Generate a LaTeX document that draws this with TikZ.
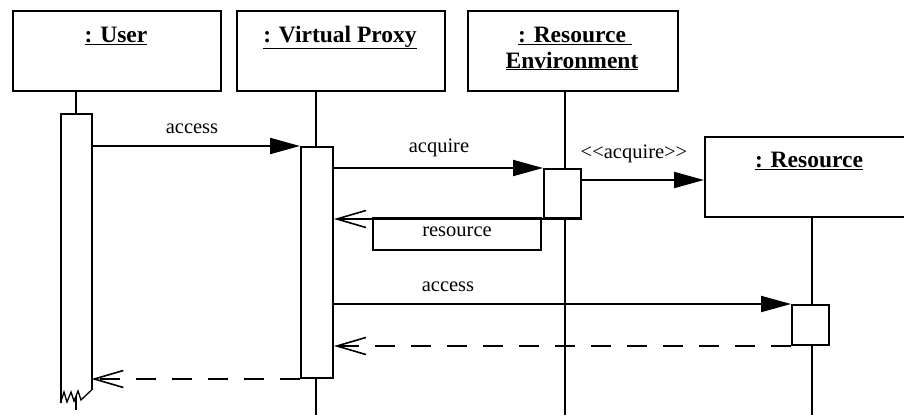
\documentclass[tikz,border=0pt]{standalone}
\usepackage{fontspec}
\setmainfont{Liberation Serif}
\usetikzlibrary{arrows.meta}
\begin{document}
\begin{tikzpicture}[x=1pt,y=-1pt,line width=2pt,
  objbox/.style={draw,rectangle,inner sep=0pt,anchor=north west,minimum height=80pt},
  actbox/.style={draw,fill=white,rectangle,inner sep=0pt,anchor=north west},
  ghost/.style={rectangle,inner sep=0pt,anchor=north west},
  objtitle/.style={anchor=base,inner sep=0pt,font=\fontsize{23.5}{28}\selectfont\bfseries},
  lbl/.style={anchor=base,inner sep=0pt,font=\fontsize{20.5}{24}\selectfont},
  lblbox/.style={draw,rectangle,inner sep=0pt,anchor=north west,minimum width=168pt,
    text height=18pt,text depth=14pt,font=\fontsize{20.5}{24}\selectfont},
  msg/.style={-{Triangle[length=30pt,width=16pt]}},
  retmsg/.style={-{Straight Barb[length=29pt,width=17pt,line width=1.6pt]}},
  dsh/.style={dash pattern=on 20pt off 16pt}]
\useasboundingbox (0,0) rectangle (904,415);
\clip (0,0) rectangle (904,415);
% object boxes
\node[objbox,minimum width=208pt] (ubox) at (12,10) {};
\node[objbox,minimum width=208pt] (vbox) at (236,10) {};
\node[objbox,minimum width=210pt] (ebox) at (467,10) {};
\node[objbox,minimum width=230pt] (rbox) at (704,136) {};
% titles
\node[objtitle] (ut) at (116,42) {\underline{: User}};
\node[objtitle] (vt) at (340,42) {\underline{: Virtual Proxy}};
\node[objtitle] (et1) at (575,42) {\underline{: Resource\ }};
\node[objtitle] (et2) at (572,68) {\underline{Environment}};
\node[objtitle] (rt) at (809,167) {\underline{: Resource}};
% lifeline x positions and bottom
\coordinate (uL) at (76,0);
\coordinate (vL) at (316,0);
\coordinate (eL) at (565,0);
\coordinate (sL) at (812,0);
\coordinate (bot) at (0,415);
\coordinate (m3) at (0,180);
\coordinate (uStubTop) at (76,396);
\coordinate (uStubEnd) at (76,410);
% activations
\node[ghost,minimum width=29pt,minimum height=274pt] (ua) at (60.5,114) {};
\node[actbox,minimum width=32pt,minimum height=231pt] (va) at (300,146) {};
\node[actbox,minimum width=37pt,minimum height=49pt] (ra) at (543,168) {};
\node[actbox,minimum width=37pt,minimum height=40pt] (sa) at (791,304) {};
% user activation with broken end
\draw (ua.south east) -- (ua.north east) -- (ua.north west) -- (60.5,403);
\draw[line width=1.3pt] (60.5,403) -- (64,392) -- (67,402) -- (71,392) -- (74,401)
  -- (78,391) -- (81,400) -- (ua.south east);
% lifelines
\draw (ubox.south -| uL) -- (ua.north -| uL);
\draw (uStubTop) -- (uStubEnd);
\draw (vbox.south -| vL) -- (va.north -| vL);
\draw (va.south -| vL) -- (bot -| vL);
\draw (ebox.south -| eL) -- (ra.north -| eL);
\draw (ra.south -| eL) -- (bot -| eL);
\draw (rbox.south -| sL) -- (sa.north -| sL);
\draw (sa.south -| sL) -- (bot -| sL);
% messages
\draw[msg] (ua.east |- va.north) -- (va.north west);
\node[lbl] (l1) at (192,133) {access};
\draw[msg] (va.east |- ra.north) -- (ra.north west);
\node[lbl] (l2) at (439,152.5) {acquire};
\draw[msg] (ra.east |- m3) -- (rbox.west |- m3);
\node[lbl] (l3) at (634,158.5) {<{}<acquire>{}>};
\draw[retmsg] (ra.south east) -- (va.east |- ra.south);
\node[lblbox] (l4) at (372,217) {resource};
\draw[msg] (va.east |- sa.north) -- (sa.north west);
\node[lbl] (l5) at (448,291) {access};
\draw[retmsg,dsh] (sa.south west) -- (va.east |- sa.south);
\draw[retmsg,dsh] (va.south west) -- (ua.east |- va.south);
\end{tikzpicture}
\end{document}
